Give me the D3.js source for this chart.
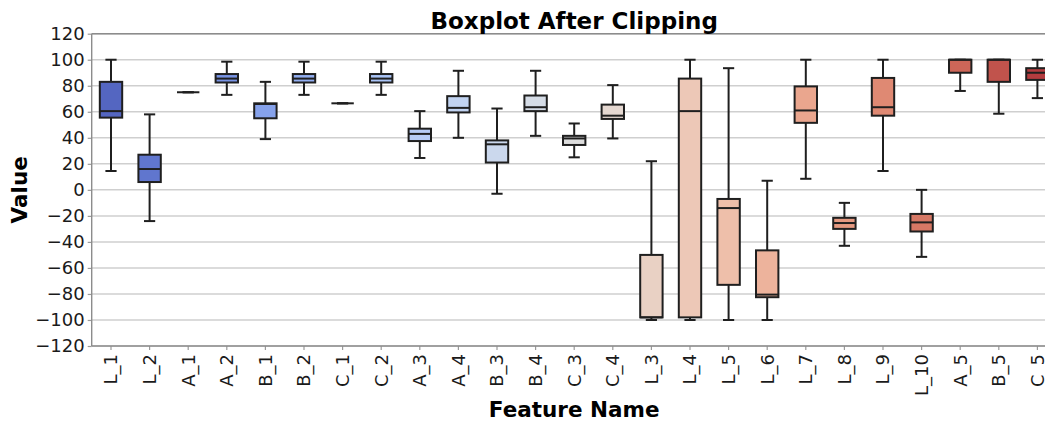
<!DOCTYPE html>
<html>
<head>
<meta charset="utf-8">
<script src="https://cdn.jsdelivr.net/npm/d3@7"></script>
<style>
  body { margin: 0; background: #fff; }
  svg { display: block; }
  text { font-family: "DejaVu Sans", sans-serif; }
</style>
</head>
<body>
<svg id="chart" width="1045" height="421"></svg>
<script>
// Feature names along the x axis
const features = ["L_1", "L_2", "A_1", "A_2", "B_1", "B_2", "C_1", "C_2", "A_3", "A_4",
                  "B_3", "B_4", "C_3", "C_4", "L_3", "L_4", "L_5", "L_6", "L_7", "L_8",
                  "L_9", "L_10", "A_5", "B_5", "C_5"];

// Five-number summaries per feature (after clipping to [-100, 100])
const whiskerLow  = [14.5, -24, 75, 73, 39, 73, 66.5, 73, 24.5, 40, -3, 41.5, 25, 39.5,
                     -100, -100, -100, -100, 8.5, -43, 14.5, -51.5, 76, 58.5, 70.5];
const q1          = [55.5, 6, 75, 82.5, 55, 82.5, 66.5, 82.5, 37.5, 59.5, 21, 60.5, 34.5, 54.5,
                     -98, -98, -73, -82.5, 51.5, -30, 57, -32, 90, 83, 84.5];
const median      = [60.5, 16, 75, 85.5, 66, 85.5, 66.5, 85.5, 43, 63, 35, 63.5, 39.5, 57,
                     -98, 60.5, -14, -80.5, 61, -25.5, 63.5, -25, 100, 100, 90];
const q3          = [83, 27, 75, 89, 66.5, 89, 66.5, 89, 47, 72, 38, 72.5, 41.5, 65.5,
                     -50, 85.5, -7, -46.5, 79.5, -21.5, 86, -18.5, 100, 100, 93.5];
const whiskerHigh = [100, 58, 75, 98.5, 83, 98.5, 66.5, 98.5, 60.5, 91.5, 62.5, 91.5, 51, 80.5,
                     22, 100, 93.5, 7, 100, -10, 100, 0, 100, 100, 100];

// Axis ticks
const yTicks = [-120, -100, -80, -60, -40, -20, 0, 20, 40, 60, 80, 100, 120];

// Labels
const titleText = "Boxplot After Clipping";
const xLabel = "Feature Name";
const yLabel = "Value";

// Coolwarm colormap control points (diverging blue -> grey -> red)
const coolwarmStops = [
  [59,76,192],[68,90,204],[77,104,215],[87,117,225],[98,130,234],[108,142,241],
  [119,154,247],[130,165,251],[141,176,254],[152,185,255],[163,194,255],[174,201,253],
  [184,208,249],[194,213,244],[204,217,238],[213,219,230],[221,221,221],[229,216,209],
  [236,211,197],[241,204,184],[245,196,172],[247,187,160],[247,177,148],[247,166,135],
  [244,154,123],[241,141,111],[236,127,99],[229,112,88],[222,96,77],[213,80,66],
  [203,62,56],[192,40,47],[180,4,38]
];
const coolwarm = d3.piecewise(d3.interpolateRgb,
  coolwarmStops.map(c => d3.rgb(c[0], c[1], c[2])));

// Sample the colormap at interior points and soften the saturation a little
function boxColor(i, n) {
  const c = d3.hsl(coolwarm((i + 1) / (n + 1)));
  c.s *= 0.8;
  return c.formatHex();
}

const svg = d3.select("#chart");
const plotLeft = 91.7, plotRight = 1056.7, plotTop = 33.7, plotBottom = 346;

const x = d3.scaleBand().domain(features).range([plotLeft, plotRight]).padding(0);
const y = d3.scaleLinear().domain([-120, 120]).range([plotBottom, plotTop]);

const bw = x.bandwidth();
const boxW = bw * 0.58;
const capW = boxW * 0.5;
const edge = "#1f1f1f";
const lw = 2;

// Horizontal grid
svg.append("g")
  .selectAll("line")
  .data(yTicks)
  .join("line")
  .attr("x1", plotLeft).attr("x2", plotRight)
  .attr("y1", d => y(d)).attr("y2", d => y(d))
  .attr("stroke", "#cfcfcf").attr("stroke-width", 1.5);

// Axes
const yAxis = d3.axisLeft(y).tickValues(yTicks).tickSize(4).tickPadding(3)
  .tickFormat(d => d < 0 ? "\u2212" + Math.abs(d) : String(d));
const gy = svg.append("g").attr("transform", `translate(${plotLeft},0)`).call(yAxis);
gy.select(".domain").remove();
gy.selectAll(".tick line").attr("stroke", "#9a9a9a").attr("stroke-width", 1.2);
gy.selectAll(".tick text").attr("font-size", 18).attr("fill", "#1a1a1a")
  .attr("font-family", "DejaVu Sans, sans-serif");

const xAxis = d3.axisBottom(x).tickSize(4).tickPadding(3);
const gx = svg.append("g").attr("transform", `translate(0,${plotBottom})`).call(xAxis);
gx.select(".domain").remove();
gx.selectAll(".tick line").attr("stroke", "#9a9a9a").attr("stroke-width", 1.2);
gx.selectAll(".tick text")
  .attr("font-size", 18).attr("fill", "#1a1a1a")
  .attr("font-family", "DejaVu Sans, sans-serif")
  .attr("transform", "rotate(-90)")
  .attr("text-anchor", "end")
  .attr("dy", "0.35em")
  .attr("x", -8).attr("y", 0);

// Spines
const spine = svg.append("g").attr("stroke", "#8c8c8c").attr("stroke-width", 1.4).attr("fill", "none");
spine.append("line").attr("x1", plotLeft).attr("x2", plotLeft).attr("y1", plotTop).attr("y2", plotBottom);
spine.append("line").attr("x1", plotLeft).attr("x2", plotRight).attr("y1", plotBottom).attr("y2", plotBottom);
spine.append("line").attr("x1", plotLeft).attr("x2", plotRight).attr("y1", plotTop).attr("y2", plotTop);

// Boxes
const rows = features.map((f, i) => ({
  f, i, lo: whiskerLow[i], q1: q1[i], med: median[i], q3: q3[i], hi: whiskerHigh[i]
}));

const g = svg.append("g");
const box = g.selectAll("g.box").data(rows).join("g").attr("class", "box");

const cx = d => x(d.f) + bw / 2;

// whiskers
box.append("line")
  .attr("x1", cx).attr("x2", cx)
  .attr("y1", d => y(d.q3)).attr("y2", d => y(d.hi))
  .attr("stroke", edge).attr("stroke-width", lw);
box.append("line")
  .attr("x1", cx).attr("x2", cx)
  .attr("y1", d => y(d.q1)).attr("y2", d => y(d.lo))
  .attr("stroke", edge).attr("stroke-width", lw);
// caps
box.append("line")
  .attr("x1", d => cx(d) - capW / 2).attr("x2", d => cx(d) + capW / 2)
  .attr("y1", d => y(d.hi)).attr("y2", d => y(d.hi))
  .attr("stroke", edge).attr("stroke-width", lw);
box.append("line")
  .attr("x1", d => cx(d) - capW / 2).attr("x2", d => cx(d) + capW / 2)
  .attr("y1", d => y(d.lo)).attr("y2", d => y(d.lo))
  .attr("stroke", edge).attr("stroke-width", lw);
// box body
box.append("rect")
  .attr("x", d => cx(d) - boxW / 2)
  .attr("width", boxW)
  .attr("y", d => y(d.q3))
  .attr("height", d => Math.max(0, y(d.q1) - y(d.q3)))
  .attr("fill", d => boxColor(d.i, features.length))
  .attr("stroke", edge).attr("stroke-width", lw);
// median
box.append("line")
  .attr("x1", d => cx(d) - boxW / 2).attr("x2", d => cx(d) + boxW / 2)
  .attr("y1", d => y(d.med)).attr("y2", d => y(d.med))
  .attr("stroke", edge).attr("stroke-width", lw);

// Title and axis labels
svg.append("text")
  .attr("x", (plotLeft + plotRight) / 2).attr("y", 29)
  .attr("text-anchor", "middle")
  .attr("font-size", 23).attr("font-weight", "bold").attr("fill", "#000")
  .text(titleText);

svg.append("text")
  .attr("x", (plotLeft + plotRight) / 2).attr("y", 417)
  .attr("text-anchor", "middle")
  .attr("font-size", 21.5).attr("font-weight", "bold").attr("fill", "#000")
  .text(xLabel);

svg.append("text")
  .attr("transform", `translate(27,${(plotTop + plotBottom) / 2}) rotate(-90)`)
  .attr("text-anchor", "middle")
  .attr("font-size", 21.5).attr("font-weight", "bold").attr("fill", "#000")
  .text(yLabel);
</script>
</body>
</html>
